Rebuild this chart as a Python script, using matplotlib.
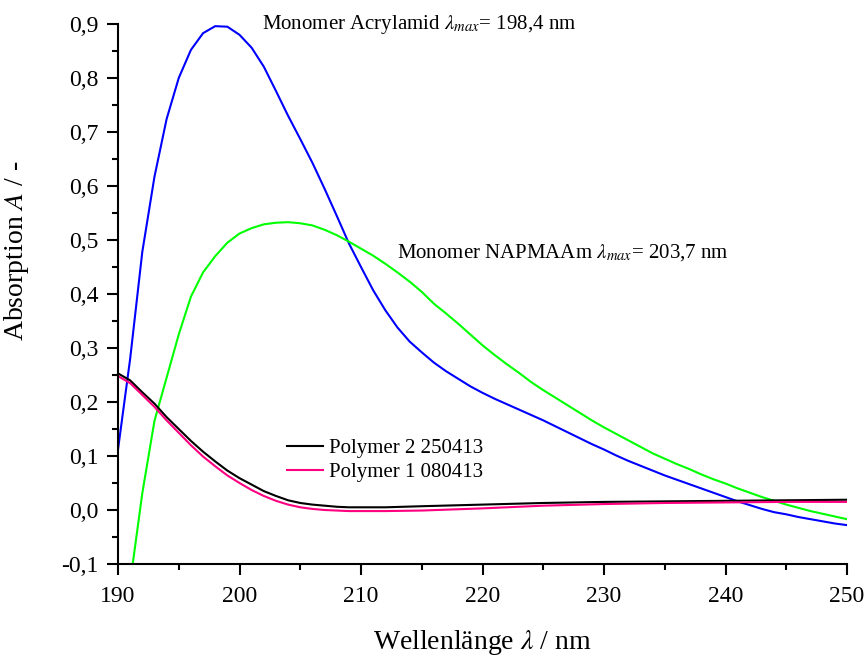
import matplotlib
matplotlib.use('Agg')
import matplotlib.pyplot as plt
import matplotlib.ticker as ticker
import numpy as np

# Fonts
plt.rcParams['font.family'] = ['Liberation Serif', 'DejaVu Serif']
plt.rcParams['mathtext.fontset'] = 'stix'
plt.rcParams['font.size'] = 17

# Monomer spectra, 1 nm steps
wl_mono = np.arange(190, 251, 1)
acrylamid = [0.112, 0.280, 0.478, 0.617, 0.724, 0.800, 0.852, 0.883, 0.896, 0.895,
             0.880, 0.856, 0.821, 0.776, 0.730, 0.687, 0.643, 0.595, 0.545, 0.494,
             0.450, 0.407, 0.370, 0.338, 0.312, 0.292, 0.273, 0.257, 0.243, 0.229,
             0.217, 0.206, 0.196, 0.186, 0.176, 0.166, 0.155, 0.144, 0.133, 0.122,
             0.112, 0.101, 0.091, 0.082, 0.073, 0.064, 0.056, 0.048, 0.040, 0.032,
             0.024, 0.016, 0.009, 0.002, -0.004, -0.008, -0.013, -0.017, -0.021, -0.025,
             -0.028]
napmaam = [np.nan, -0.135, 0.031, 0.165, 0.245, 0.325, 0.395, 0.440, 0.470, 0.495,
           0.512, 0.522, 0.529, 0.532, 0.533, 0.531, 0.527, 0.519, 0.509, 0.497,
           0.484, 0.471, 0.456, 0.440, 0.423, 0.404, 0.382, 0.364, 0.345, 0.325,
           0.305, 0.287, 0.270, 0.254, 0.237, 0.222, 0.208, 0.194, 0.180, 0.166,
           0.153, 0.141, 0.129, 0.117, 0.105, 0.095, 0.085, 0.076, 0.066, 0.057,
           0.049, 0.040, 0.032, 0.024, 0.017, 0.010, 0.004, -0.002, -0.007, -0.012,
           -0.017]

# Polymer spectra
wl_poly = [190, 191, 192, 193, 194, 195, 196, 197, 198, 199, 200, 201, 202, 203, 204,
           205, 206, 207, 208, 209, 210, 212, 215, 220, 225, 230, 235, 240, 245, 250]
polymer2 = [0.253, 0.240, 0.218, 0.197, 0.172, 0.150, 0.128, 0.108, 0.090, 0.073,
            0.059, 0.047, 0.035, 0.026, 0.018, 0.013, 0.010, 0.008, 0.006, 0.005,
            0.005, 0.005, 0.007, 0.010, 0.013, 0.015, 0.016, 0.017, 0.018, 0.019]
polymer1 = [0.248, 0.235, 0.213, 0.191, 0.166, 0.143, 0.120, 0.099, 0.081, 0.064,
            0.050, 0.037, 0.026, 0.017, 0.010, 0.005, 0.002, 0.000, -0.001, -0.002,
            -0.002, -0.002, -0.001, 0.003, 0.008, 0.011, 0.013, 0.014, 0.015, 0.015]

fig = plt.figure(figsize=(8.67, 6.56), dpi=100)
ax = fig.add_axes([118/867, 1-564/656, 729/867, 540/656])

ax.plot(wl_mono, acrylamid, color='#0000ff', linewidth=1.5)
ax.plot(wl_mono, napmaam, color='#00ff00', linewidth=1.5)
ax.plot(wl_poly, polymer2, color='black', linewidth=1.5, label='Polymer 2 250413')
ax.plot(wl_poly, polymer1, color='#ff0080', linewidth=1.5, label='Polymer 1 080413')

# Limits and ticks
ax.set_xlim(190, 250)
ax.set_ylim(-0.1, 0.9)
ax.set_xticks(np.arange(190, 251, 10))
ax.set_yticks(np.arange(-0.1, 0.91, 0.1))
ax.xaxis.set_minor_locator(ticker.MultipleLocator(5))
ax.yaxis.set_minor_locator(ticker.MultipleLocator(0.05))
ax.yaxis.set_major_formatter(ticker.FuncFormatter(lambda v, p: ('%.1f' % v).replace('.', ',').replace('-0,0', '0,0')))
ax.tick_params(which='major', direction='out', length=8, width=1.5, pad=6)
ax.tick_params(axis='x', which='major', pad=8)
ax.tick_params(which='minor', direction='out', length=4, width=1.5)

for s in ['top', 'right']:
    ax.spines[s].set_visible(False)
for s in ['left', 'bottom']:
    ax.spines[s].set_linewidth(1.5)

# Labels
ax.set_xlabel(r'Wellenlänge $\lambda$ / nm', fontsize=20)
ax.set_ylabel(r'Absorption $A$ / -', fontsize=20)
ax.xaxis.set_label_coords(0.5, -0.118)
ax.yaxis.set_label_coords(-0.12, 0.58)

# Annotations
ax.text(201.85, 0.9, r'Monomer Acrylamid $\lambda_{max}$= 198,4 nm', fontsize=15, va='center', clip_on=False)
ax.text(212.96, 0.476, r'Monomer NAPMAAm $\lambda_{max}$= 203,7 nm', fontsize=15, va='center')

# Legend
ax.legend(loc='upper left', bbox_to_anchor=(0.232, 0.232), frameon=False, fontsize=15,
          handlelength=1.7, handletextpad=0.3, labelspacing=0.2, borderpad=0, borderaxespad=0)

fig.savefig('out.png', dpi=100)
